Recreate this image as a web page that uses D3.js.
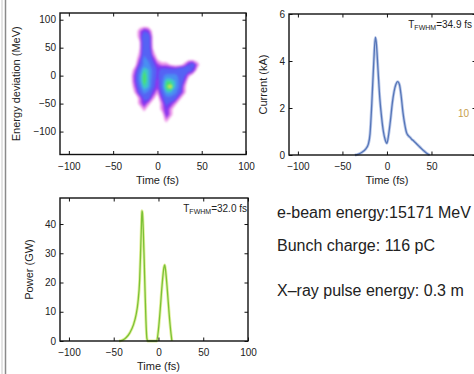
<!DOCTYPE html>
<html>
<head>
<meta charset="utf-8">
<script src="https://cdn.jsdelivr.net/npm/d3@7"></script>
<style>
  body { margin: 0; background: #fff; }
  svg { display: block; font-family: "Liberation Sans", Arial, Helvetica, sans-serif; }
</style>
</head>
<body>
<svg id="fig" width="474" height="374"></svg>
<script>
// ---- data ----
const timeTicks = [-100, -50, 0, 50, 100];
const energyTicks = [-100, -50, 0, 50, 100];
const currentTicks = [0, 2, 4, 6];
const powerTicks = [0, 10, 20, 30, 40];

// longitudinal phase space (arbitrary density 0..9), columns = time (fs), rows = energy (MeV)
const timeCols = [-45, -40, -35, -30, -25, -20, -15, -10, -5, 0, 5, 10, 15, 20, 25, 30, 35, 40, 45, 50];
const energyRows = [100, 90, 80, 70, 60, 50, 40, 30, 20, 10, 0, -10, -20, -30, -40, -50, -60, -70, -80, -90, -100];
const density = [
  [0,0,0,0,0,0,0,0,0,0,0,0,0,0,0,0,0,0,0,0],
  [0,0,0,0,0,0,0,0,0,0,0,0,0,0,0,0,0,0,0,0],
  [0,0,0,0,0,1.2,2.4,1.8,0.2,0,0,0,0,0,0,0,0,0,0,0],
  [0,0,0,0,0,1.2,4,3.5,0.3,0,0,0,0,0,0,0,0,0,0,0],
  [0,0,0,0,0,0.6,4,3.5,0.3,0,0,0,0,0,0,0,0,0,0,0],
  [0,0,0,0,0,0.6,4,3.5,0.5,0,0,0,0,0,0,0,0,0,0,0],
  [0,0,0,0,0,0.8,4,4,1,0,0,0,0,0,0,0,0,0,0,0],
  [0,0,0,0,0,1.5,5,4,2,0.5,0,0,0,0,0,0,0,0,0,0],
  [0,0,0,0,0.3,2.5,5,5,3,1.5,1,1,0.5,0,0,0.8,2.5,3.2,1.2,0],
  [0,0,0,0,1.4,4,7,6,4,2.2,3,3,3,3,4,4,3.5,2.5,0.3,0],
  [0,0,0,0.3,2,5,8,6,4,2,4,5,5,5,4,3,1,0,0,0],
  [0,0,0,0.2,2,5,8,6,3.5,1.5,4,7,7,6,4,2,0,0,0,0],
  [0,0,0,0,1.5,4,7,6,3,1.5,4,8,9,6,4,1,0,0,0,0],
  [0,0,0,0,0.8,3,5,4,2,0.8,3,6,6,5,3,1,0,0,0,0],
  [0,0,0,0,0,1,3,3,1,0,2,4,4,3,1,0,0,0,0,0],
  [0,0,0,0,0,1,2,1,0,0,1,3,2,1,0,0,0,0,0,0],
  [0,0,0,0,0,0,1,0,0,0,1,2,1,0,0,0,0,0,0,0],
  [0,0,0,0,0,0,0,0,0,0,0,2,1,0,0,0,0,0,0,0],
  [0,0,0,0,0,0,0,0,0,0,0,1,0,0,0,0,0,0,0,0],
  [0,0,0,0,0,0,0,0,0,0,0,0,0,0,0,0,0,0,0,0],
  [0,0,0,0,0,0,0,0,0,0,0,0,0,0,0,0,0,0,0,0]
];
const heatLevels = [0.6, 1.2, 1.8, 2.6, 4.5, 6, 7, 8.2];
const heatColors = ['#ef9be9', '#a53be8', '#6f3df2', '#5564f4', '#4a8ff2', '#3ec8c8', '#48df70', '#dfe642'];

// current profile
const currentTime = [-36, -32, -28, -24, -21, -19, -17, -15, -13, -12, -10, -8, -6, -4, -2, 0, 2, 4, 6, 8, 10, 12, 14, 16, 18, 20, 22, 24, 26, 28, 30, 34, 38, 42, 46, 48];
const currentKA = [0, 0.04, 0.12, 0.25, 0.45, 0.9, 2.2, 3.8, 5.0, 4.8, 3.6, 2.4, 1.6, 1.0, 0.65, 0.5, 0.9, 1.5, 2.2, 2.7, 3.0, 3.12, 3.0, 2.5, 1.8, 1.3, 0.95, 0.82, 0.75, 0.66, 0.6, 0.45, 0.3, 0.16, 0.04, 0];

// x-ray power profile
const powerTime = [-44, -40, -36, -32, -28, -25, -23, -21, -20, -19, -18.5, -18, -17, -16, -15, -14, -13, -12, -3, -2, 0, 2, 4, 6, 7, 8, 10, 12, 14, 15];
const powerGW = [0, 0.3, 1.2, 2.8, 5.5, 9, 13, 21, 30, 40, 44.5, 44, 38, 28, 17, 7, 1, 0, 0, 0, 4, 11, 19, 25, 26, 24, 17, 9, 2.5, 0];

const infoLines = ['e-beam energy:15171 MeV', 'Bunch charge: 116 pC', 'X\u2013ray pulse energy: 0.3 m'];

// ---- drawing ----
const svg = d3.select('#fig');

// window border on the left
svg.append('line').attr('x1', 2).attr('x2', 2).attr('y1', 0).attr('y2', 374).attr('stroke', '#c8c8c8').attr('stroke-width', 1);
svg.append('line').attr('x1', 5.5).attr('x2', 5.5).attr('y1', 0).attr('y2', 374).attr('stroke', '#8a8a8a').attr('stroke-width', 1.5);

function makePanel(p) {
    const x = d3.scaleLinear().domain(p.xd).range([p.left, p.right]);
    const y = d3.scaleLinear().domain(p.yd).range([p.bottom, p.top]);
    const g = svg.append('g');
    return { x, y, g, p };
}

function drawFrame(pan, xTicks, yTicks, xLabel, yLabel, yLabelX, xMaxLabel) {
    const { x, y, g, p } = pan;
    const fmt = d => (xMaxLabel !== undefined && d > xMaxLabel) ? '' : d3.format('d')(d).replace('-', '\u2212');
    const yfmt = d => d3.format('d')(d).replace('-', '\u2212');

    const bottom = g.append('g').attr('transform', `translate(0,${p.bottom})`)
        .call(d3.axisBottom(x).tickValues(xTicks).tickSize(-3.5).tickPadding(8).tickFormat(fmt));
    const top = g.append('g').attr('transform', `translate(0,${p.top})`)
        .call(d3.axisTop(x).tickValues(xTicks).tickSize(-3.5).tickFormat(''));
    const left = g.append('g').attr('transform', `translate(${p.left},0)`)
        .call(d3.axisLeft(y).tickValues(yTicks).tickSize(-3.5).tickPadding(4).tickFormat(yfmt));
    const right = g.append('g').attr('transform', `translate(${p.right},0)`)
        .call(d3.axisRight(y).tickValues(yTicks).tickSize(-3.5).tickFormat(''));

    [bottom, top, left, right].forEach(a => {
        a.select('.domain').remove();
        a.selectAll('line').attr('stroke', '#111').attr('stroke-width', 1);
        a.selectAll('text').attr('fill', '#222').style('font-size', '10px');
    });

    g.append('rect')
        .attr('x', p.left).attr('y', p.top)
        .attr('width', p.right - p.left).attr('height', p.bottom - p.top)
        .attr('fill', 'none').attr('stroke', '#111').attr('stroke-width', 1.4);

    g.append('text')
        .attr('x', (x(0))).attr('y', p.bottom + 29)
        .attr('text-anchor', 'middle').attr('fill', '#222')
        .style('font-size', '11px').text(xLabel);

    g.append('text')
        .attr('transform', `translate(${yLabelX},${(p.top + p.bottom) / 2}) rotate(-90)`)
        .attr('text-anchor', 'middle').attr('fill', '#222')
        .style('font-size', '11px').text(yLabel);
}

function fwhmLabel(pan, value, xEnd) {
    const { g, p } = pan;
    const t = g.append('text')
        .attr('x', xEnd).attr('y', p.top + 14)
        .attr('text-anchor', 'end').attr('fill', '#222')
        .style('font-size', '10px');
    t.append('tspan').text('T');
    t.append('tspan').attr('dy', 2).style('font-size', '7px').text('FWHM');
    t.append('tspan').attr('dy', -2).text('=' + value + ' fs');
}

// panel 1: phase space
const p1 = makePanel({ left: 60, right: 246, top: 13, bottom: 154.5, xd: [-110, 100], yd: [-141, 112] });
const defs = svg.append('defs');
defs.append('clipPath').attr('id', 'clip1').append('rect')
    .attr('x', 60).attr('y', 13).attr('width', 186).attr('height', 141.5);
defs.append('filter').attr('id', 'soft').attr('x', '-20%').attr('y', '-20%').attr('width', '140%').attr('height', '140%')
    .append('feGaussianBlur').attr('stdDeviation', 1.0);

const nCols = timeCols.length, nRows = energyRows.length;
const dT = timeCols[1] - timeCols[0], dE = energyRows[1] - energyRows[0];
const bands = d3.contours().size([nCols, nRows]).thresholds(heatLevels)(density.flat());
const proj = d3.geoTransform({
    point: function (gx, gy) {
        this.stream.point(p1.x(timeCols[0] + (gx - 0.5) * dT), p1.y(energyRows[0] + (gy - 0.5) * dE));
    }
});
const heatPath = d3.geoPath(proj);
p1.g.append('g').attr('clip-path', 'url(#clip1)')
    .append('g').attr('filter', 'url(#soft)')
    .selectAll('path').data(bands).join('path')
    .attr('d', heatPath)
    .attr('fill', (d, i) => heatColors[i]);

drawFrame(p1, timeTicks, energyTicks, 'Time (fs)', 'Energy deviation (MeV)', 20);

// panel 2: current
const p2 = makePanel({ left: 289, right: 476, top: 14, bottom: 155, xd: [-110, 100], yd: [0, 6] });
const currentLine = d3.line().x((d, i) => p2.x(currentTime[i])).y(d => p2.y(d)).curve(d3.curveMonotoneX);
p2.g.append('path').attr('d', currentLine(currentKA)).attr('fill', 'none')
    .attr('stroke', '#bccaea').attr('stroke-width', 3);
p2.g.append('path').attr('d', currentLine(currentKA)).attr('fill', 'none')
    .attr('stroke', '#5676b8').attr('stroke-width', 1.3);
drawFrame(p2, timeTicks, currentTicks, 'Time (fs)', 'Current (kA)', 267, 50);
fwhmLabel(p2, '34.9', 472);

// panel 3: power
const p3 = makePanel({ left: 60, right: 248, top: 198, bottom: 341, xd: [-110, 100], yd: [0, 48.9] });
const powerLine = d3.line().x((d, i) => p3.x(powerTime[i])).y(d => p3.y(d)).curve(d3.curveMonotoneX);
p3.g.append('path').attr('d', powerLine(powerGW)).attr('fill', 'none')
    .attr('stroke', '#e2f0a0').attr('stroke-width', 3);
p3.g.append('path').attr('d', powerLine(powerGW)).attr('fill', 'none')
    .attr('stroke', '#7cc236').attr('stroke-width', 1.3);
drawFrame(p3, timeTicks, powerTicks, 'Time (fs)', 'Power (GW)', 33);
fwhmLabel(p3, '32.0', 247);

// stray label fragment at the right edge
svg.append('text').attr('x', 458).attr('y', 117).attr('fill', '#c7a04c')
    .style('font-size', '10px').text('10');

// info text
svg.selectAll('text.info').data(infoLines).join('text')
    .attr('class', 'info')
    .attr('x', 277)
    .attr('y', (d, i) => [218, 251, 296][i])
    .attr('fill', '#222')
    .style('font-size', '16px')
    .text(d => d);
</script>
</body>
</html>
